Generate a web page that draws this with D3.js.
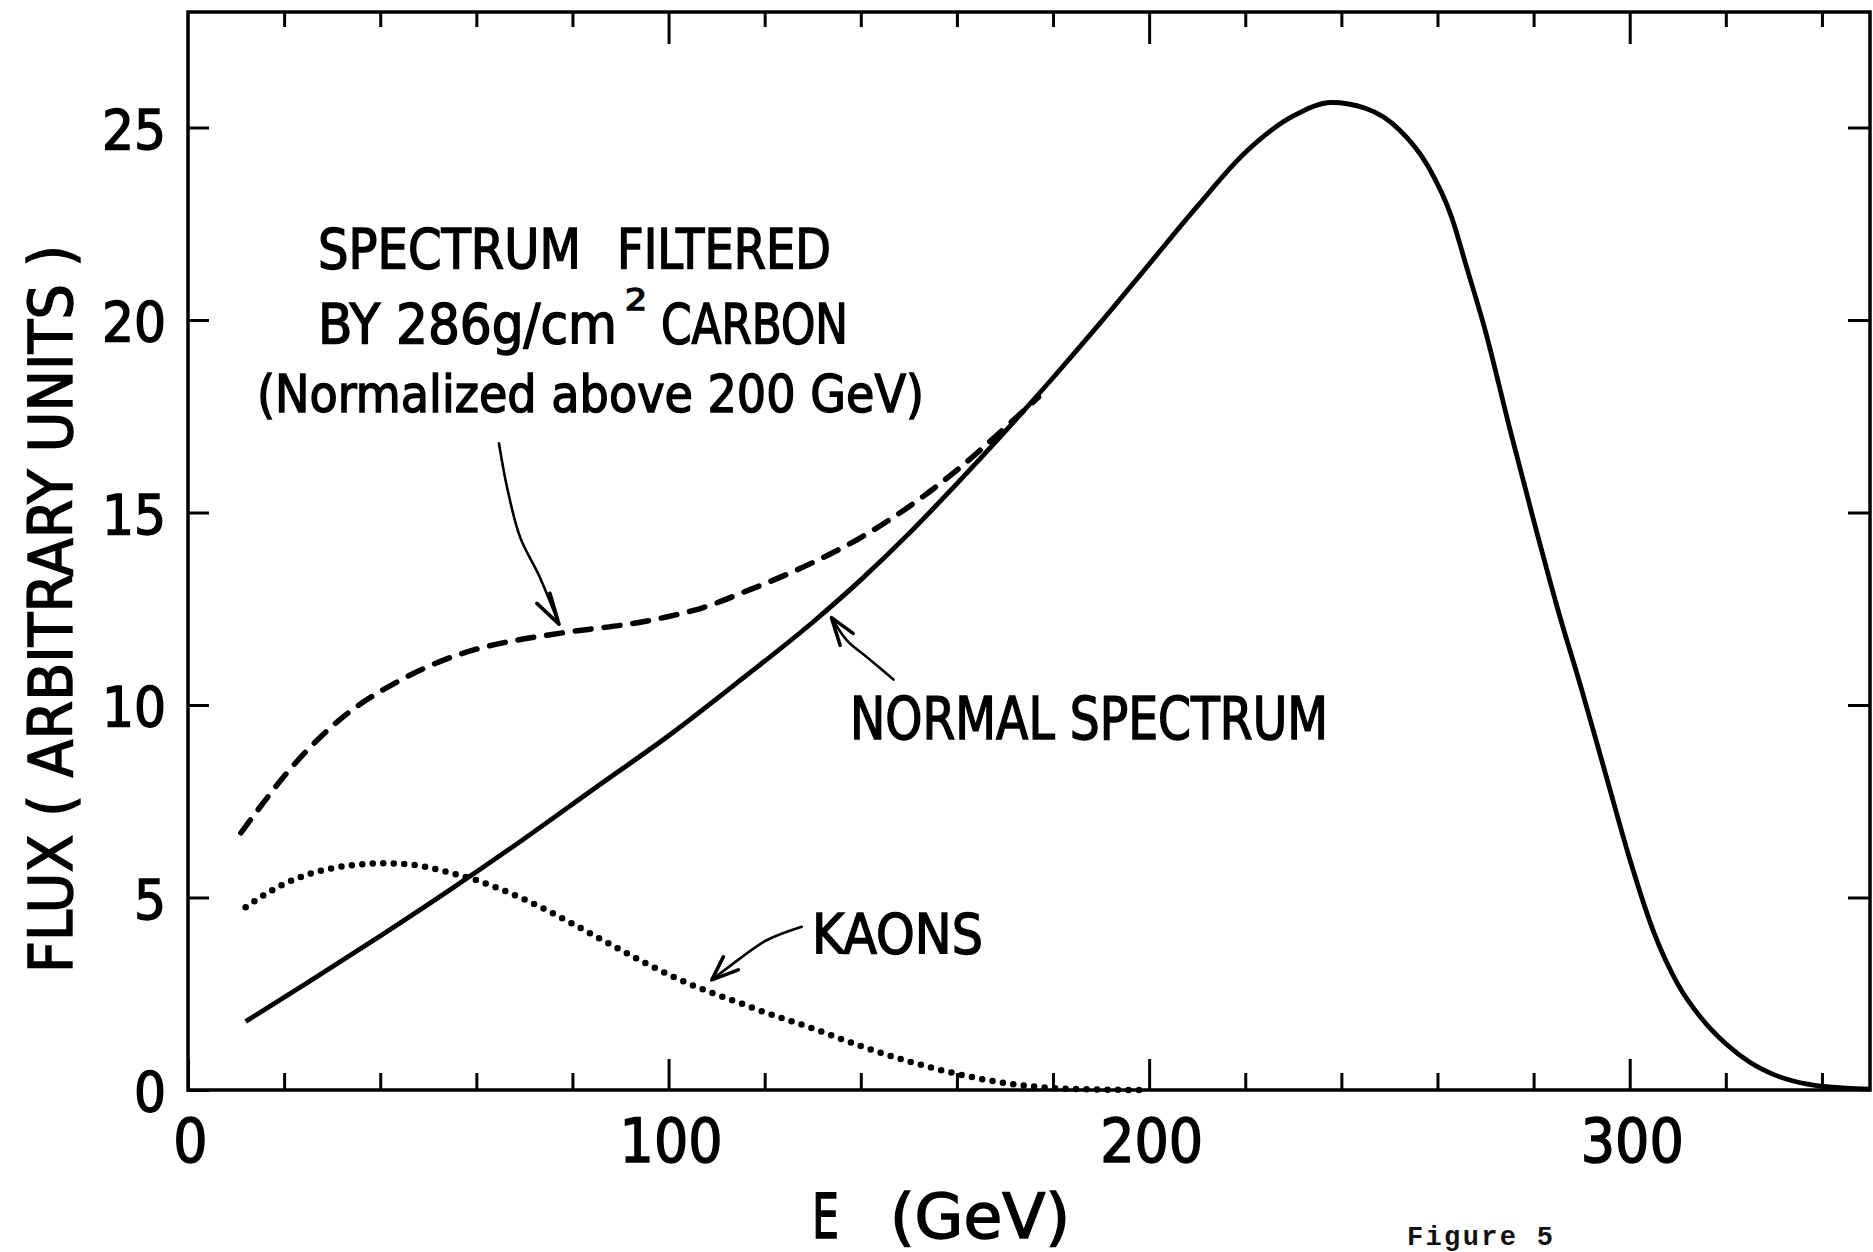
<!DOCTYPE html>
<html>
<head>
<meta charset="utf-8">
<script src="https://cdn.jsdelivr.net/npm/d3@7"></script>
<style>
    body { margin: 0; background: #fff; }
    svg { display: block; }
    .lbl { font-family: "DejaVu Sans Condensed", "DejaVu Sans", sans-serif; font-stretch: condensed; fill: #000; stroke: #000; stroke-width: 1.4; }
    .mono { font-family: "Liberation Mono", "DejaVu Sans Mono", monospace; fill: #111; }
</style>
</head>
<body>
<div class="chart"></div>
<script>
// readings: energy in GeV, flux in arbitrary units
var normalE    = [12, 25, 40, 55, 70, 85, 100, 115, 130, 140, 150, 160, 170, 180, 190, 200, 210, 220, 230, 238, 245, 252, 258, 263, 266, 270, 275, 280, 285, 290, 295, 300, 305, 310, 315, 320, 325, 330, 337, 345, 350];
var normalFlux = [1.78, 2.8, 4.0, 5.24, 6.53, 7.87, 9.2, 10.65, 12.15, 13.25, 14.45, 15.75, 17.1, 18.5, 19.95, 21.45, 22.95, 24.35, 25.3, 25.65, 25.5, 24.95, 24.0, 22.65, 21.4, 19.7, 17.2, 14.8, 12.5, 10.4, 8.2, 6.0, 4.1, 2.75, 1.85, 1.2, 0.72, 0.4, 0.15, 0.05, 0.02];

var filteredE    = [11, 15, 20, 25, 30, 35, 40, 45, 50, 55, 60, 65, 70, 75, 80, 85, 90, 95, 100, 105, 110, 115, 120, 130, 140, 150, 160, 170, 177];
var filteredFlux = [6.68, 7.35, 8.15, 8.85, 9.45, 9.95, 10.35, 10.7, 11.0, 11.25, 11.45, 11.6, 11.72, 11.82, 11.91, 11.99, 12.07, 12.17, 12.3, 12.45, 12.65, 12.9, 13.15, 13.7, 14.35, 15.15, 16.1, 17.2, 18.0];

var kaonE    = [12, 15, 20, 25, 30, 35, 40, 45, 50, 55, 60, 65, 70, 75, 80, 85, 90, 95, 100, 105, 110, 115, 120, 130, 140, 150, 160, 170, 180, 190, 200];
var kaonFlux = [4.75, 5.0, 5.35, 5.6, 5.76, 5.85, 5.89, 5.87, 5.78, 5.63, 5.45, 5.22, 4.95, 4.65, 4.32, 3.98, 3.64, 3.31, 3.0, 2.72, 2.48, 2.25, 2.02, 1.6, 1.14, 0.74, 0.42, 0.18, 0.05, 0.01, 0];

var xMajorTicks = [0, 100, 200, 300];
var xMinorTicks = [20, 40, 60, 80, 120, 140, 160, 180, 220, 240, 260, 280, 320, 340];
var yTicks = [0, 5, 10, 15, 20, 25];

var svgWidth = 1873;
var svgHeight = 1252;

var margin = {
    top: 12,
    right: 3,
    bottom: 162,
    left: 188
};

var width = svgWidth - margin.left - margin.right;
var height = svgHeight - margin.top - margin.bottom;

var svg = d3
    .select(".chart")
    .append("svg")
    .attr("width", svgWidth)
    .attr("height", svgHeight);

svg.append("rect")
    .attr("width", svgWidth)
    .attr("height", svgHeight)
    .attr("fill", "#fff");

var chartGroup = svg.append("g")
    .attr("transform", `translate(${margin.left}, ${margin.top})`);

var xScale = d3.scaleLinear()
    .domain([0, 350])
    .range([0, width]);

var yScale = d3.scaleLinear()
    .domain([0, 28])
    .range([height, 0]);

// ticks on all four sides, frame drawn separately
function styleAxis(g) {
    g.select(".domain").remove();
    g.selectAll(".tick line")
        .attr("stroke", "#000")
        .attr("stroke-width", 3);
    return g;
}

chartGroup.append("g")
    .attr("transform", `translate(0, ${height})`)
    .call(d3.axisBottom(xScale).tickValues(xMinorTicks).tickSize(-17).tickFormat(""))
    .call(styleAxis);

var bottomMajor = chartGroup.append("g")
    .attr("transform", `translate(0, ${height})`)
    .call(d3.axisBottom(xScale).tickValues(xMajorTicks).tickSize(-31).tickPadding(29))
    .call(styleAxis);

bottomMajor.selectAll("text")
    .attr("class", "lbl")
    .attr("font-size", 60)
    .attr("dx", 2)
    .attr("dy", "0.71em");

chartGroup.append("g")
    .call(d3.axisTop(xScale).tickValues(xMinorTicks).tickSize(-15).tickFormat(""))
    .call(styleAxis);

chartGroup.append("g")
    .call(d3.axisTop(xScale).tickValues(xMajorTicks.slice(1)).tickSize(-32).tickFormat(""))
    .call(styleAxis);

var leftAxis = chartGroup.append("g")
    .call(d3.axisLeft(yScale).tickValues(yTicks).tickSize(-21).tickPadding(22))
    .call(styleAxis);

leftAxis.selectAll("text")
    .attr("class", "lbl")
    .attr("font-size", 56)
    .attr("dy", "0.37em");

chartGroup.append("g")
    .attr("transform", `translate(${width}, 0)`)
    .call(d3.axisRight(yScale).tickValues(yTicks.slice(1)).tickSize(-22).tickFormat(""))
    .call(styleAxis);

chartGroup.append("rect")
    .attr("width", width)
    .attr("height", height)
    .attr("fill", "none")
    .attr("stroke", "#000")
    .attr("stroke-width", 3.5);

// curves
var line = d3.line()
    .x(d => xScale(d[0]))
    .y(d => yScale(d[1]))
    .curve(d3.curveMonotoneX);

chartGroup.append("path")
    .datum(d3.zip(normalE, normalFlux))
    .attr("d", line)
    .attr("fill", "none")
    .attr("stroke", "#000")
    .attr("stroke-width", 4.8)
    .attr("stroke-linejoin", "round");

chartGroup.append("path")
    .datum(d3.zip(filteredE, filteredFlux))
    .attr("d", line)
    .attr("fill", "none")
    .attr("stroke", "#000")
    .attr("stroke-width", 5.5)
    .attr("stroke-dasharray", "16 13")
    .attr("stroke-linecap", "round");

chartGroup.append("path")
    .datum(d3.zip(kaonE, kaonFlux))
    .attr("d", line)
    .attr("fill", "none")
    .attr("stroke", "#000")
    .attr("stroke-width", 6.5)
    .attr("stroke-dasharray", "0 10.5")
    .attr("stroke-linecap", "round");

// pointer arrows, placed in data units
var filteredArrow = [[64.7, 16.8], [66.4, 15.65], [69.1, 14.36], [73.2, 13.32], [77.2, 12.1]];
var filteredHead = [[72.6, 12.64], [77.2, 12.1], [75.3, 12.9]];
var normalArrow = [[146.8, 10.66], [141.2, 11.25], [137.1, 11.68], [133.9, 12.27]];
var normalHead = [[135.7, 11.55], [133.9, 12.27], [138.4, 11.86]];
var kaonArrow = [[127.7, 4.24], [120.4, 3.89], [114.9, 3.42], [109.0, 2.86]];
var kaonHead = [[111.4, 3.46], [109.0, 2.86], [114.5, 3.12]];

var arrowLine = d3.line()
    .x(d => xScale(d[0]))
    .y(d => yScale(d[1]))
    .curve(d3.curveCatmullRom);

var headLine = d3.line()
    .x(d => xScale(d[0]))
    .y(d => yScale(d[1]));

[[filteredArrow, filteredHead], [normalArrow, normalHead], [kaonArrow, kaonHead]].forEach(function(a) {
    chartGroup.append("path")
        .attr("d", arrowLine(a[0]))
        .attr("fill", "none")
        .attr("stroke", "#000")
        .attr("stroke-width", 2.6)
        .attr("stroke-linecap", "round");
    chartGroup.append("path")
        .attr("d", headLine(a[1]))
        .attr("fill", "none")
        .attr("stroke", "#000")
        .attr("stroke-width", 3.6)
        .attr("stroke-linecap", "round")
        .attr("stroke-linejoin", "round");
});

// lettering
function label(x, y, size, txt, len) {
    var t = svg.append("text")
        .attr("class", "lbl")
        .attr("x", x)
        .attr("y", y)
        .attr("font-size", size)
        .text(txt);
    if (len) {
        t.attr("textLength", len).attr("lengthAdjust", "spacingAndGlyphs");
    }
    return t;
}

label(318, 268, 55, "SPECTRUM", 263);
label(617, 268, 55, "FILTERED", 214);
label(318, 343, 55, "BY 286g/cm", 299);
label(625, 310, 30, "2", 22);
label(661, 343, 55, "CARBON", 187);
label(257, 412, 52, "(Normalized above 200 GeV)", 667);

label(850, 739, 58, "NORMAL SPECTRUM", 478);
label(812, 953, 56, "KAONS", 171);

label(812, 1238, 62, "E", 27);
label(890, 1238, 62, "(GeV)", 180);

svg.append("text")
    .attr("class", "lbl")
    .attr("transform", "translate(72, 609) rotate(-90)")
    .attr("text-anchor", "middle")
    .attr("font-size", 60)
    .attr("textLength", 728)
    .attr("lengthAdjust", "spacingAndGlyphs")
    .text("FLUX ( ARBITRARY UNITS )");

svg.append("text")
    .attr("class", "mono")
    .attr("x", 1407)
    .attr("y", 1245)
    .attr("font-size", 27)
    .attr("font-weight", "bold")
    .attr("textLength", 146)
    .text("Figure 5");
</script>
</body>
</html>
